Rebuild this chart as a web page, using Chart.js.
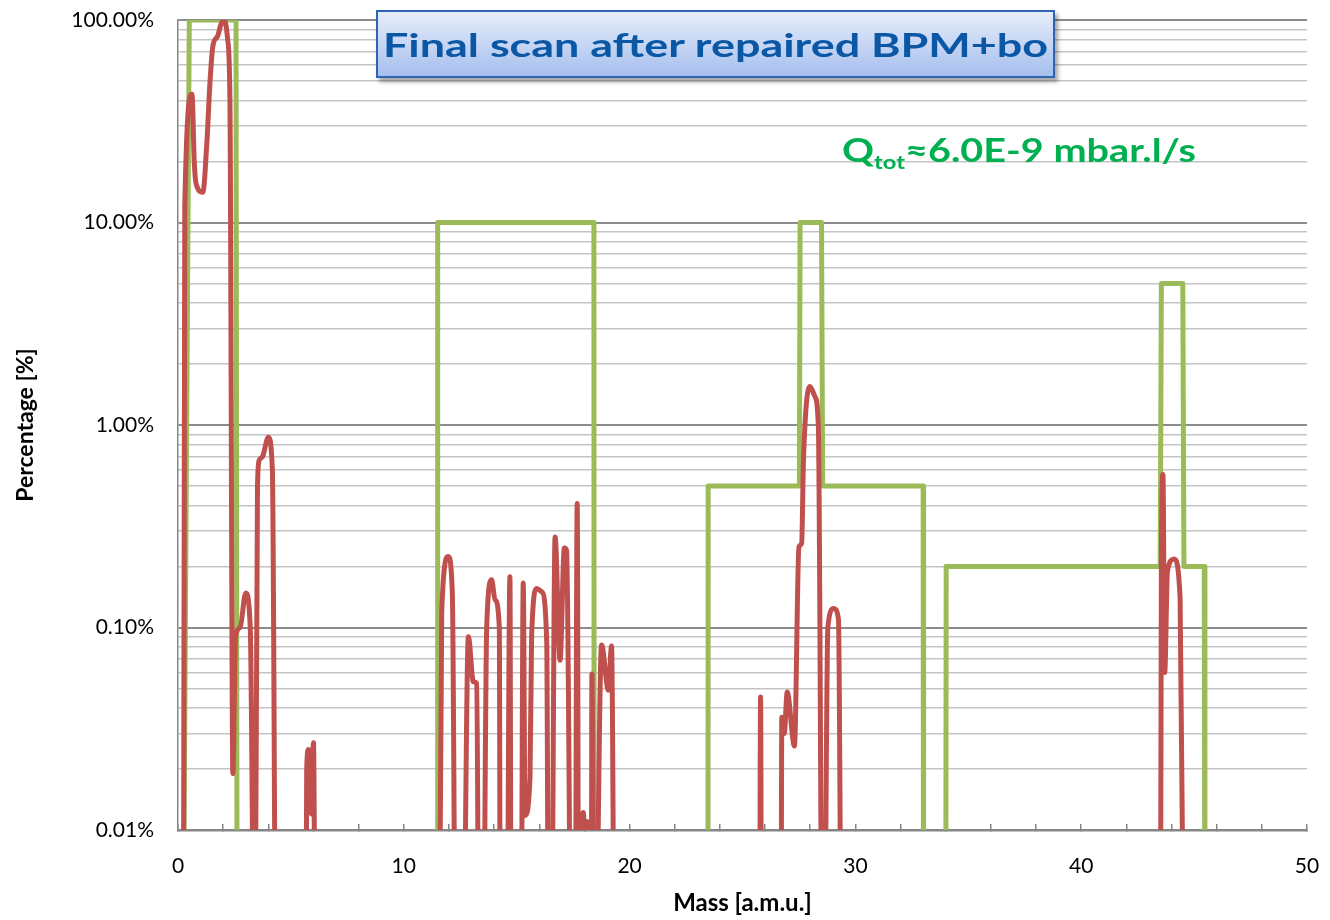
<!DOCTYPE html>
<html>
<head>
<meta charset="utf-8">
<script src="https://cdn.jsdelivr.net/npm/chart.js@4.4.0/dist/chart.umd.min.js"></script>
<style>
  body { margin: 0; background: #fff; }
  #wrap { position: relative; width: 1330px; height: 920px; }
  #title-box {
    position: absolute; left: 376px; top: 10px; width: 679px; height: 68px;
    box-sizing: border-box; border: 2px solid #2e64b0;
    background: linear-gradient(to bottom, #e6edfa, #a6bfee);
    box-shadow: 3px 4px 4px rgba(0, 0, 0, 0.35);
    color: #0a57a5; font: bold 33px 'Lato', sans-serif;
    text-align: center; line-height: 64px; white-space: nowrap;
  }
  #title-box span { display: inline-block; transform: scaleX(1.36); }
  #q-label {
    position: absolute; left: 842px; top: 129px;
    color: #00b050; font: bold 33px 'Lato', sans-serif; line-height: 40px;
    white-space: nowrap; transform: scaleX(1.2); transform-origin: left center;
  }
  #q-label sub { font-size: 60%; vertical-align: -7px; }
</style>
</head>
<body>
<div id="wrap">
  <canvas id="chart" width="1330" height="920"></canvas>
  <div id="title-box"><span>Final scan after repaired BPM+bo</span></div>
  <div id="q-label">Q<sub>tot</sub>≈6.0E-9 mbar.l/s</div>
</div>
<script>
// Measured scan (red), values in %; 0.001 = below the 0.01% floor
const redMass = [
  0.24, 0.3, 0.62, 0.72, 0.8, 1.1, 1.28, 1.42, 1.55, 1.75, 1.9, 2.05, 2.2, 2.3, 2.43,
  2.55, 2.75, 3.0, 3.2, 3.4, 3.52, 3.6, 3.75, 4.0, 4.18, 4.35,
  5.65, 5.7, 5.78, 5.9, 6.0, 6.1,
  11.55, 11.68, 11.97, 12.15, 12.31, 12.6, 12.86, 13.08, 13.23, 13.34,
  13.5, 13.67, 13.89, 14.04, 14.23, 14.28, 14.55, 14.7, 14.76,
  15.18, 15.29, 15.37, 15.59, 15.66, 15.89, 16.11, 16.33, 16.42,
  16.52, 16.7, 16.92, 17.11, 17.21, 17.44, 17.58, 17.68, 17.75,
  17.85, 17.95, 18.05, 18.12, 18.2, 18.3, 18.33, 18.45, 18.76, 19.06, 19.2, 19.35,
  25.75, 25.8, 25.85, 26.7, 26.74, 26.85, 26.98, 27.3, 27.5, 27.62, 27.7,
  27.99, 28.21, 28.36, 28.55, 28.6, 28.78, 29.04, 29.25, 29.4,
  43.5, 43.55, 43.62, 43.7, 43.82, 44.12, 44.38, 44.55
];
const redPct = [
  0.001, 12, 43, 20, 15.6, 14.1, 25, 50, 75, 83, 95, 100, 80, 40, 0.019,
  0.09, 0.1, 0.148, 0.1, 0.001, 0.5, 0.67, 0.7, 0.87, 0.6, 0.001,
  0.001, 0.02, 0.025, 0.012, 0.027, 0.001,
  0.001, 0.12, 0.224, 0.147, 0.001, 0.001, 0.09, 0.054, 0.053, 0.001,
  0.001, 0.099, 0.172, 0.137, 0.1, 0.001, 0.001, 0.178, 0.001,
  0.001, 0.166, 0.0118, 0.0183, 0.09, 0.156, 0.15, 0.085, 0.001,
  0.001, 0.28, 0.069, 0.247, 0.24, 0.001, 0.001, 0.41, 0.001,
  0.008, 0.0122, 0.007, 0.011, 0.001, 0.001, 0.059, 0.001, 0.082, 0.049, 0.081, 0.001,
  0.001, 0.0454, 0.001, 0.001, 0.036, 0.03, 0.048, 0.026, 0.25, 0.26, 0.67,
  1.55, 1.38, 0.98, 0.001, 0.001, 0.1, 0.124, 0.11, 0.001,
  0.001, 0.19, 0.57, 0.06, 0.19, 0.218, 0.14, 0.001
];

// Acceptance limits (green), values in %
const greenMass = [
  0.21, 0.5, 2.57, 2.62,
  11.49, 11.5, 18.42, 18.43,
  23.47, 23.48, 27.52, 27.55, 28.5, 28.55, 33.0, 33.02,
  34.0, 34.02, 43.5, 43.55, 44.5, 44.55, 45.45, 45.48
];
const greenPct = [
  0.001, 100, 100, 0.001,
  0.001, 10, 10, 0.001,
  0.001, 0.5, 0.5, 10, 10, 0.5, 0.5, 0.001,
  0.001, 0.2, 0.2, 5, 5, 0.2, 0.2, 0.001
];

// Axis ticks
const yGridValues = [];
[0.01, 0.1, 1, 10].forEach(d => {
  for (let k = 1; k < 10; k++) yGridValues.push(+(d * k).toPrecision(3));
});
yGridValues.push(100);
const yLabelValues = [0.01, 0.1, 1, 10, 100];
const xMin = 0, xMax = 50, xStep = 2, xLabelStep = 10;

const font = "'Lato', sans-serif";

const ctx = document.getElementById('chart').getContext('2d');
new Chart(ctx, {
  type: 'line',
  data: {
    datasets: [
      {
        label: 'Scan',
        data: redMass.map((m, i) => ({ x: m, y: redPct[i] })),
        borderColor: '#c0504d',
        borderWidth: 5,
        pointRadius: 0,
        tension: 0.4,
        cubicInterpolationMode: 'monotone',
        borderJoinStyle: 'round',
        borderCapStyle: 'round'
      },
      {
        label: 'Limit',
        data: greenMass.map((m, i) => ({ x: m, y: greenPct[i] })),
        borderColor: '#9bbb59',
        borderWidth: 5,
        pointRadius: 0,
        tension: 0,
        borderJoinStyle: 'round'
      }
    ]
  },
  options: {
    responsive: false,
    animation: false,
    layout: { padding: { left: 0, right: 23, top: 20, bottom: 0 } },
    plugins: { legend: { display: false }, tooltip: { enabled: false } },
    scales: {
      x: {
        type: 'linear',
        min: xMin,
        max: xMax,
        afterFit: s => { s.height = 90; s.paddingLeft = 0; s.paddingRight = 0; },
        ticks: {
          stepSize: xStep,
          autoSkip: false,
          maxRotation: 0,
          padding: 30,
          color: '#000',
          font: { family: font, size: 21 },
          callback: v => (v % xLabelStep === 0 ? v : '')
        },
        grid: {
          drawOnChartArea: false,
          tickLength: -6,
          color: '#868686',
          lineWidth: 1.5
        },
        border: { color: '#868686', width: 2.5 },
        title: {
          display: true,
          text: 'Mass [a.m.u.]',
          color: '#000',
          font: { family: font, size: 24, weight: 'bold' },
          padding: { top: 0, bottom: 2 }
        }
      },
      y: {
        type: 'logarithmic',
        min: 0.01,
        max: 100,
        afterFit: s => { s.width = 178; s.paddingTop = 0; s.paddingBottom = 0; },
        afterBuildTicks: s => { s.ticks = yGridValues.map(v => ({ value: v })); },
        ticks: {
          autoSkip: false,
          padding: 24,
          color: '#000',
          font: { family: font, size: 21 },
          callback: v => (yLabelValues.includes(v) ? v.toFixed(2) + '%' : '')
        },
        grid: {
          drawTicks: false,
          color: c => (yLabelValues.includes(c.tick.value) ? '#8c8c8c' : '#c4c4c4'),
          lineWidth: c => (yLabelValues.includes(c.tick.value) ? 2 : 1.5)
        },
        border: { color: '#868686', width: 1.5 },
        title: {
          display: true,
          text: 'Percentage [%]',
          color: '#000',
          font: { family: font, size: 23, weight: 'bold' },
          padding: { top: 12, bottom: 0 }
        }
      }
    }
  }
});
</script>
</body>
</html>
